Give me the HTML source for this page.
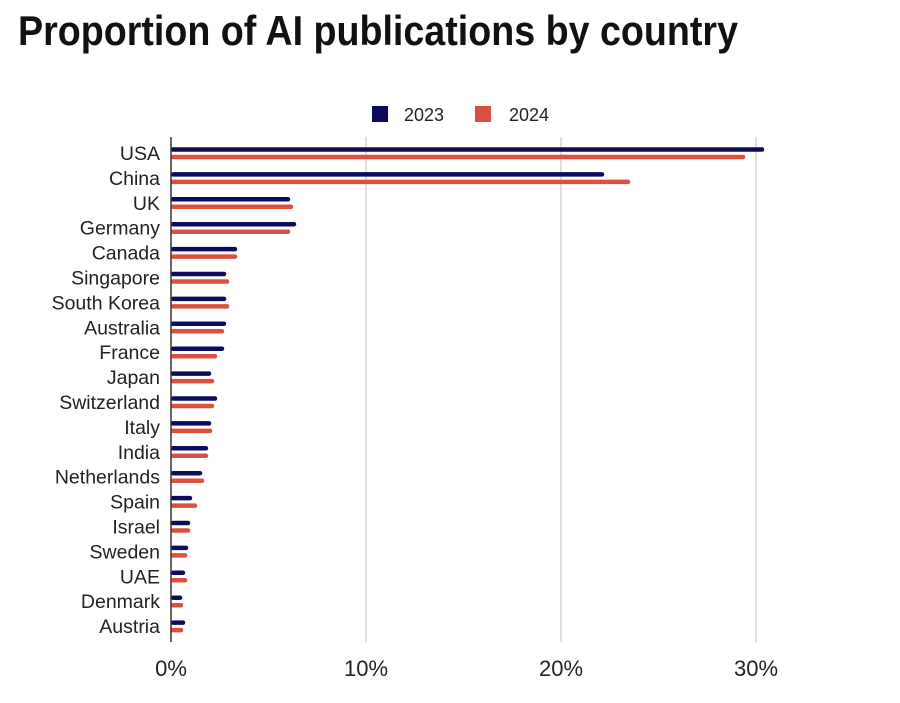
<!DOCTYPE html>
<html><head><meta charset="utf-8"><style>body{margin:0;background:#fff}</style></head>
<body>
<svg width="900" height="698" xmlns="http://www.w3.org/2000/svg" font-family="Liberation Sans, sans-serif">
<rect width="900" height="698" fill="#fff"/>
<text x="18" y="45" font-size="42" font-weight="bold" fill="#111" textLength="720" lengthAdjust="spacingAndGlyphs">Proportion of AI publications by country</text>
<rect x="372" y="106" width="16" height="16" fill="#0c0c5a"/>
<text x="404" y="121" font-size="18" fill="#222">2023</text>
<rect x="475" y="106" width="16" height="16" fill="#dc5040"/>
<text x="509" y="121" font-size="18" fill="#222">2024</text>
<g stroke="#ccc" stroke-width="1.2">
<line x1="366" y1="137" x2="366" y2="642"/>
<line x1="561" y1="137" x2="561" y2="642"/>
<line x1="756" y1="137" x2="756" y2="642"/>
</g>
<g font-size="22" fill="#222" text-anchor="middle">
<text x="171" y="676">0%</text><text x="366" y="676">10%</text><text x="561" y="676">20%</text><text x="756" y="676">30%</text>
</g>
<g stroke-linecap="round" stroke-width="4.5" stroke="#0c0c5a">
<line x1="173" y1="149.5" x2="762" y2="149.5"/>
<line x1="173" y1="174.4" x2="602" y2="174.4"/>
<line x1="173" y1="199.3" x2="288" y2="199.3"/>
<line x1="173" y1="224.2" x2="294" y2="224.2"/>
<line x1="173" y1="249.1" x2="235" y2="249.1"/>
<line x1="173" y1="274" x2="224" y2="274"/>
<line x1="173" y1="298.9" x2="224" y2="298.9"/>
<line x1="173" y1="323.8" x2="224" y2="323.8"/>
<line x1="173" y1="348.7" x2="222" y2="348.7"/>
<line x1="173" y1="373.6" x2="209" y2="373.6"/>
<line x1="173" y1="398.5" x2="215" y2="398.5"/>
<line x1="173" y1="423.4" x2="209" y2="423.4"/>
<line x1="173" y1="448.3" x2="206" y2="448.3"/>
<line x1="173" y1="473.2" x2="200" y2="473.2"/>
<line x1="173" y1="498.1" x2="190" y2="498.1"/>
<line x1="173" y1="523" x2="188" y2="523"/>
<line x1="173" y1="547.9" x2="186" y2="547.9"/>
<line x1="173" y1="572.8" x2="183" y2="572.8"/>
<line x1="173" y1="597.7" x2="180" y2="597.7"/>
<line x1="173" y1="622.6" x2="183" y2="622.6"/>
</g>
<g stroke-linecap="round" stroke-width="4.5" stroke="#dc5040">
<line x1="173" y1="157" x2="743" y2="157"/>
<line x1="173" y1="181.9" x2="628" y2="181.9"/>
<line x1="173" y1="206.8" x2="291" y2="206.8"/>
<line x1="173" y1="231.7" x2="288" y2="231.7"/>
<line x1="173" y1="256.6" x2="235" y2="256.6"/>
<line x1="173" y1="281.5" x2="227" y2="281.5"/>
<line x1="173" y1="306.4" x2="227" y2="306.4"/>
<line x1="173" y1="331.3" x2="222" y2="331.3"/>
<line x1="173" y1="356.2" x2="215" y2="356.2"/>
<line x1="173" y1="381.1" x2="212" y2="381.1"/>
<line x1="173" y1="406" x2="212" y2="406"/>
<line x1="173" y1="430.9" x2="210" y2="430.9"/>
<line x1="173" y1="455.8" x2="206" y2="455.8"/>
<line x1="173" y1="480.7" x2="202" y2="480.7"/>
<line x1="173" y1="505.6" x2="195" y2="505.6"/>
<line x1="173" y1="530.5" x2="188" y2="530.5"/>
<line x1="173" y1="555.4" x2="185" y2="555.4"/>
<line x1="173" y1="580.3" x2="185" y2="580.3"/>
<line x1="173" y1="605.2" x2="181" y2="605.2"/>
<line x1="173" y1="630.1" x2="181" y2="630.1"/>
</g>
<g font-size="19.5" fill="#222" text-anchor="end">
<text x="160" y="160">USA</text>
<text x="160" y="184.9">China</text>
<text x="160" y="209.8">UK</text>
<text x="160" y="234.7">Germany</text>
<text x="160" y="259.6">Canada</text>
<text x="160" y="284.5">Singapore</text>
<text x="160" y="309.4">South Korea</text>
<text x="160" y="334.3">Australia</text>
<text x="160" y="359.2">France</text>
<text x="160" y="384.1">Japan</text>
<text x="160" y="409">Switzerland</text>
<text x="160" y="433.9">Italy</text>
<text x="160" y="458.8">India</text>
<text x="160" y="483.7">Netherlands</text>
<text x="160" y="508.6">Spain</text>
<text x="160" y="533.5">Israel</text>
<text x="160" y="558.4">Sweden</text>
<text x="160" y="583.3">UAE</text>
<text x="160" y="608.2">Denmark</text>
<text x="160" y="633.1">Austria</text>
</g>
<line x1="171" y1="137" x2="171" y2="642" stroke="#333" stroke-width="1.5"/>
</svg>
</body></html>
